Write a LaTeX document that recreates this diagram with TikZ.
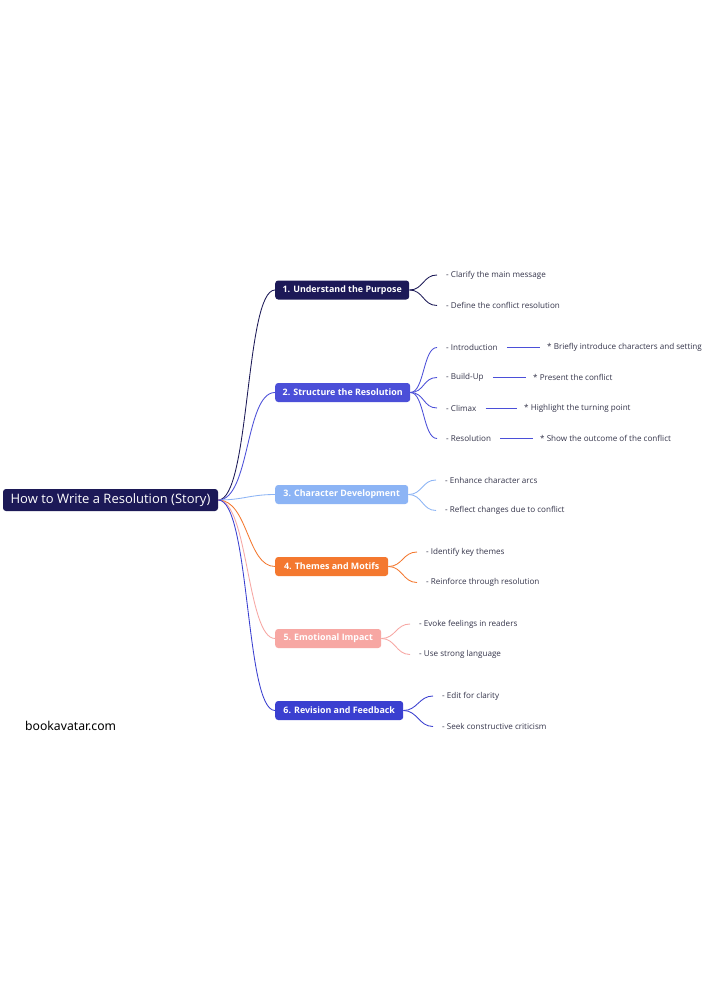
\documentclass[tikz,border=0pt]{standalone}
\usepackage{fontspec}
\setmainfont{Open Sans}
\newfontfamily\wmfont{Noto Sans}
\definecolor{navy}{HTML}{1C1957}
\definecolor{sblue}{HTML}{4B4FD8}
\definecolor{lblue}{HTML}{8CB4F5}
\definecolor{orng}{HTML}{F4782F}
\definecolor{pink}{HTML}{F7A7A3}
\definecolor{rblue}{HTML}{3A3FD0}
\definecolor{leaftxt}{HTML}{34344A}
\tikzset{
  rootbox/.style={fill=navy, text=white, rounded corners=3pt, minimum width=215pt, minimum height=22pt, inner sep=0pt, font=\fontsize{13}{15}\selectfont},
  branchbox/.style={fill=#1, text=white, rounded corners=3pt, minimum height=19pt, inner sep=0pt, anchor=west, font=\fontsize{8.9}{10}\selectfont\bfseries},
  leaf/.style={anchor=west, inner xsep=9pt, inner ysep=1pt, text=leaftxt, font=\fontsize{8.1}{9}\selectfont},
  subleaf/.style={anchor=west, inner xsep=7pt, inner ysep=1pt, text=leaftxt, font=\fontsize{8.1}{9}\selectfont},
  link/.style={draw=#1, line width=0.85pt},
}
\begin{document}
\begin{tikzpicture}[x=1pt,y=-1pt]
\fill[white] (0,0) rectangle (707,1000);
\useasboundingbox (0,0) rectangle (707,1000);

% root
\node[rootbox] (root) at (110.5,500) {How to Write a Resolution (Story)};

% branches
\node[branchbox=navy, minimum width=134pt] (b1) at (275,290) {1. Understand the Purpose};
\node[branchbox=sblue, minimum width=135pt] (b2) at (275,392.5) {2. Structure the Resolution};
\node[branchbox=lblue, minimum width=133pt] (b3) at (275,494.5) {3. Character Development};
\node[branchbox=orng, minimum width=113pt] (b4) at (275,566.5) {4. Themes and Motifs};
\node[branchbox=pink, minimum width=106pt] (b5) at (275,638.5) {5. Emotional Impact};
\node[branchbox=rblue, minimum width=128pt] (b6) at (275,710.5) {6. Revision and Feedback};

% root connectors
\draw[link=navy] (root.east) .. controls +(32,0) and +(-30,0) .. (b1.west);
\draw[link=sblue] (root.east) .. controls +(32,0) and +(-30,0) .. (b2.west);
\draw[link=lblue] (root.east) .. controls +(25,0) and +(-25,0) .. (b3.west);
\draw[link=orng] (root.east) .. controls +(30,0) and +(-28,0) .. (b4.west);
\draw[link=pink] (root.east) .. controls +(30,0) and +(-28,0) .. (b5.west);
\draw[link=rblue] (root.east) .. controls +(32,0) and +(-30,0) .. (b6.west);

% leaves of 1
\node[leaf] (l11) at (437,275) {- Clarify the main message};
\node[leaf] (l12) at (437,305.5) {- Define the conflict resolution};
\foreach \l in {l11,l12} \draw[link=navy] (b1.east) .. controls +(14,0) and +(-14,0) .. (\l.west);

% leaves of 2
\node[leaf] (l21) at (437,347.5) {- Introduction};
\node[leaf] (l22) at (437,377.5) {- Build-Up};
\node[leaf] (l23) at (437,408) {- Climax};
\node[leaf] (l24) at (437,438.5) {- Resolution};
\foreach \l in {l21,l22,l23,l24} \draw[link=sblue] (b2.east) .. controls +(14,0) and +(-14,0) .. (\l.west);
\node[subleaf] (s21) at (540,347.5) {* Briefly introduce characters and setting};
\node[subleaf] (s22) at (526,377.5) {* Present the conflict};
\node[subleaf] (s23) at (517,408) {* Highlight the turning point};
\node[subleaf] (s24) at (533,438.5) {* Show the outcome of the conflict};
\draw[link=sblue] (l21.east) -- (s21.west);
\draw[link=sblue] (l22.east) -- (s22.west);
\draw[link=sblue] (l23.east) -- (s23.west);
\draw[link=sblue] (l24.east) -- (s24.west);

% leaves of 3
\node[leaf] (l31) at (436,480) {- Enhance character arcs};
\node[leaf] (l32) at (436,510.5) {- Reflect changes due to conflict};
\foreach \l in {l31,l32} \draw[link=lblue] (b3.east) .. controls +(14,0) and +(-14,0) .. (\l.west);

% leaves of 4
\node[leaf] (l41) at (417,552) {- Identify key themes};
\node[leaf] (l42) at (417,582.5) {- Reinforce through resolution};
\foreach \l in {l41,l42} \draw[link=orng] (b4.east) .. controls +(14,0) and +(-14,0) .. (\l.west);

% leaves of 5
\node[leaf] (l51) at (410,624) {- Evoke feelings in readers};
\node[leaf] (l52) at (410,654.5) {- Use strong language};
\foreach \l in {l51,l52} \draw[link=pink] (b5.east) .. controls +(14,0) and +(-14,0) .. (\l.west);

% leaves of 6
\node[leaf] (l61) at (433,696) {- Edit for clarity};
\node[leaf] (l62) at (433,726.5) {- Seek constructive criticism};
\foreach \l in {l61,l62} \draw[link=rblue] (b6.east) .. controls +(14,0) and +(-14,0) .. (\l.west);

% watermark
\node[anchor=west, inner sep=0pt, font=\wmfont\fontsize{12.2}{14}\selectfont, text=black] (wm) at (25,726) {bookavatar.com};
\end{tikzpicture}
\end{document}
